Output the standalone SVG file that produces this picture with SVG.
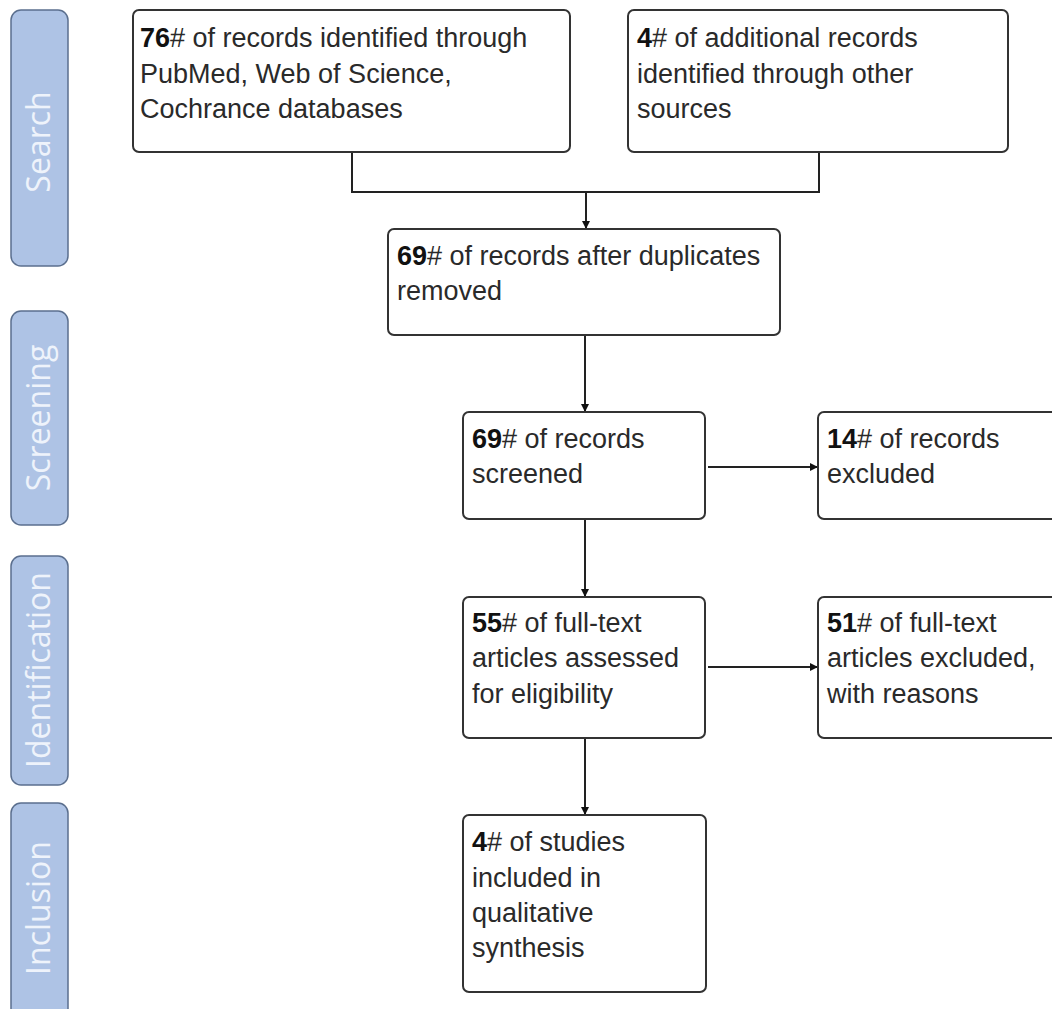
<svg xmlns="http://www.w3.org/2000/svg" width="1052" height="1009" viewBox="0 0 1052 1009">
<defs>
<style>
.tab{fill:#aec3e5;stroke:#5b6f8e;stroke-width:1.5}
.tabt{fill:#eef3fb;font-family:"Open Sans","DejaVu Sans",sans-serif;font-size:32px;text-anchor:middle}
.box{fill:#fff;stroke:#333;stroke-width:2}
.bt{fill:#2a2a2a;font-family:"Liberation Sans",Arial,sans-serif;font-size:27px}
.b{font-weight:bold;fill:#111}
.ln{fill:none;stroke:#222;stroke-width:2}
</style>
<marker id="ah" viewBox="0 0 10 10" refX="10" refY="5" markerWidth="10" markerHeight="8" markerUnits="userSpaceOnUse" orient="auto">
<path d="M0,0 L10,5 L0,10 z" fill="#111"/>
</marker>
</defs>
<rect width="1052" height="1009" fill="#fff"/>
<g id="tab-search"><rect class="tab" x="11" y="10" width="57" height="256" rx="10"/><text class="tabt" transform="translate(50,142) rotate(-90)">Search</text></g>
<g id="tab-screening"><rect class="tab" x="11" y="311" width="57" height="214" rx="10"/><text class="tabt" transform="translate(50,418) rotate(-90)">Screening</text></g>
<g id="tab-identification"><rect class="tab" x="11" y="556" width="57" height="229" rx="10"/><text class="tabt" transform="translate(50,670) rotate(-90)">Identification</text></g>
<g id="tab-inclusion"><rect class="tab" x="11" y="803" width="57" height="220" rx="10"/><text class="tabt" transform="translate(50,908) rotate(-90)">Inclusion</text></g>

<g id="connectors">
<path class="ln" d="M352,152 V192 H819 V152"/>
<path class="ln" d="M586,192 V229" marker-end="url(#ah)"/>
<path class="ln" d="M585,335 V412" marker-end="url(#ah)"/>
<path class="ln" d="M585,519 V597" marker-end="url(#ah)"/>
<path class="ln" d="M585,738 V815" marker-end="url(#ah)"/>
<path class="ln" d="M708,467 H818" marker-end="url(#ah)"/>
<path class="ln" d="M708,667 H818" marker-end="url(#ah)"/>
</g>

<g id="n1"><rect class="box" x="133" y="10" width="437" height="142" rx="6"/>
<text class="bt" x="140" y="47"><tspan class="b">76</tspan># of records identified through<tspan x="140" y="83">PubMed, Web of Science,</tspan><tspan x="140" y="118">Cochrance databases</tspan></text></g>
<g id="n2"><rect class="box" x="628" y="10" width="380" height="142" rx="6"/>
<text class="bt" x="637" y="47"><tspan class="b">4</tspan># of additional records<tspan x="637" y="83">identified through other</tspan><tspan x="637" y="118">sources</tspan></text></g>
<g id="n3"><rect class="box" x="388" y="229" width="392" height="106" rx="6"/>
<text class="bt" x="397" y="265"><tspan class="b">69</tspan># of records after duplicates<tspan x="397" y="300">removed</tspan></text></g>
<g id="n4"><rect class="box" x="463" y="412" width="242" height="107" rx="6"/>
<text class="bt" x="472" y="448"><tspan class="b">69</tspan># of records<tspan x="472" y="483">screened</tspan></text></g>
<g id="n5"><rect class="box" x="818" y="412" width="250" height="107" rx="6"/>
<text class="bt" x="827" y="448"><tspan class="b">14</tspan># of records<tspan x="827" y="483">excluded</tspan></text></g>
<g id="n6"><rect class="box" x="463" y="597" width="242" height="141" rx="6"/>
<text class="bt" x="472" y="632"><tspan class="b">55</tspan># of full-text<tspan x="472" y="667">articles assessed</tspan><tspan x="472" y="703">for eligibility</tspan></text></g>
<g id="n7"><rect class="box" x="818" y="597" width="250" height="141" rx="6"/>
<text class="bt" x="827" y="632"><tspan class="b">51</tspan># of full-text<tspan x="827" y="667">articles excluded,</tspan><tspan x="827" y="703">with reasons</tspan></text></g>
<g id="n8"><rect class="box" x="463" y="815" width="243" height="177" rx="6"/>
<text class="bt" x="472" y="851"><tspan class="b">4</tspan># of studies<tspan x="472" y="887">included in</tspan><tspan x="472" y="922">qualitative</tspan><tspan x="472" y="957">synthesis</tspan></text></g>
</svg>
